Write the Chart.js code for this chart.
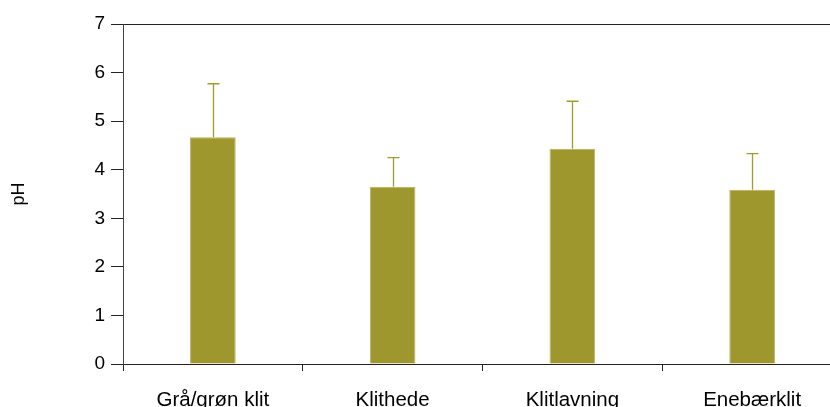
<!DOCTYPE html>
<html>
<head>
<meta charset="utf-8">
<script src="https://cdn.jsdelivr.net/npm/chart.js@4.4.1/dist/chart.umd.min.js"></script>
<style>
    html, body { margin: 0; padding: 0; background: #fff; overflow: hidden; }
    #wrap { width: 842px; height: 414px; }
</style>
</head>
<body>
<div id="wrap"><canvas id="phChart" width="842" height="414"></canvas></div>
<script>
    // pH per habitat type, mean and standard deviation
    const categories = ['Grå/grøn klit', 'Klithede', 'Klitlavning', 'Enebærklit'];
    const meanPH = [4.67, 3.65, 4.43, 3.59];
    const sdPH = [1.10, 0.60, 0.98, 0.74];
    const yTicks = [0, 1, 2, 3, 4, 5, 6, 7];

    const barFill = '#9e972d';
    const barEdge = '#b8b15a';
    const axisColor = '#222';

    // upward-only error bars with a small cap
    const errorBars = {
        id: 'errorBars',
        afterDatasetsDraw(chart) {
            const ctx = chart.ctx;
            const y = chart.scales.y;
            const meta = chart.getDatasetMeta(0);
            ctx.save();
            ctx.strokeStyle = '#a29b30';
            ctx.lineWidth = 1.3;
            meta.data.forEach((bar, i) => {
                const top = y.getPixelForValue(meanPH[i] + sdPH[i]);
                const x = Math.round(bar.x) + 0.5;
                ctx.beginPath();
                ctx.moveTo(x, bar.y);
                ctx.lineTo(x, top);
                ctx.moveTo(x - 6, top);
                ctx.lineTo(x + 6, top);
                ctx.stroke();
            });
            ctx.restore();
        }
    };

    const ctx = document.getElementById('phChart').getContext('2d');
    new Chart(ctx, {
        type: 'bar',
        data: {
            labels: categories,
            datasets: [{
                data: meanPH,
                backgroundColor: barFill,
                borderColor: barEdge,
                borderWidth: 1,
                barPercentage: 0.254,
                categoryPercentage: 1
            }]
        },
        options: {
            responsive: false,
            animation: false,
            layout: { padding: { top: 24, left: 0, right: 0, bottom: 0 } },
            plugins: {
                legend: { display: false },
                tooltip: { enabled: false }
            },
            scales: {
                x: {
                    afterFit: (scale) => { scale.height = 50; },
                    grid: {
                        offset: true,
                        drawOnChartArea: false,
                        tickLength: 7,
                        tickColor: axisColor
                    },
                    border: { display: true, color: axisColor, width: 1 },
                    ticks: {
                        color: '#000',
                        padding: 17,
                        maxRotation: 0,
                        font: { family: 'Liberation Sans, Arial, sans-serif', size: 20.5 }
                    }
                },
                y: {
                    min: 0,
                    max: 7,
                    afterFit: (scale) => { scale.width = 123; },
                    afterBuildTicks: (scale) => { scale.ticks = yTicks.map(v => ({ value: v })); },
                    grid: {
                        color: (c) => (c.tick && c.tick.value === 7) ? axisColor : 'rgba(0,0,0,0)',
                        tickColor: axisColor,
                        tickLength: 12
                    },
                    border: { display: true, color: '#444', width: 1 },
                    ticks: {
                        color: '#000',
                        padding: 6,
                        font: { family: 'Liberation Sans, Arial, sans-serif', size: 19 }
                    },
                    title: {
                        display: true,
                        text: 'pH',
                        color: '#000',
                        padding: { top: 8, bottom: 0 },
                        font: { family: 'Liberation Sans, Arial, sans-serif', size: 18 }
                    }
                }
            }
        },
        plugins: [errorBars]
    });
</script>
</body>
</html>
